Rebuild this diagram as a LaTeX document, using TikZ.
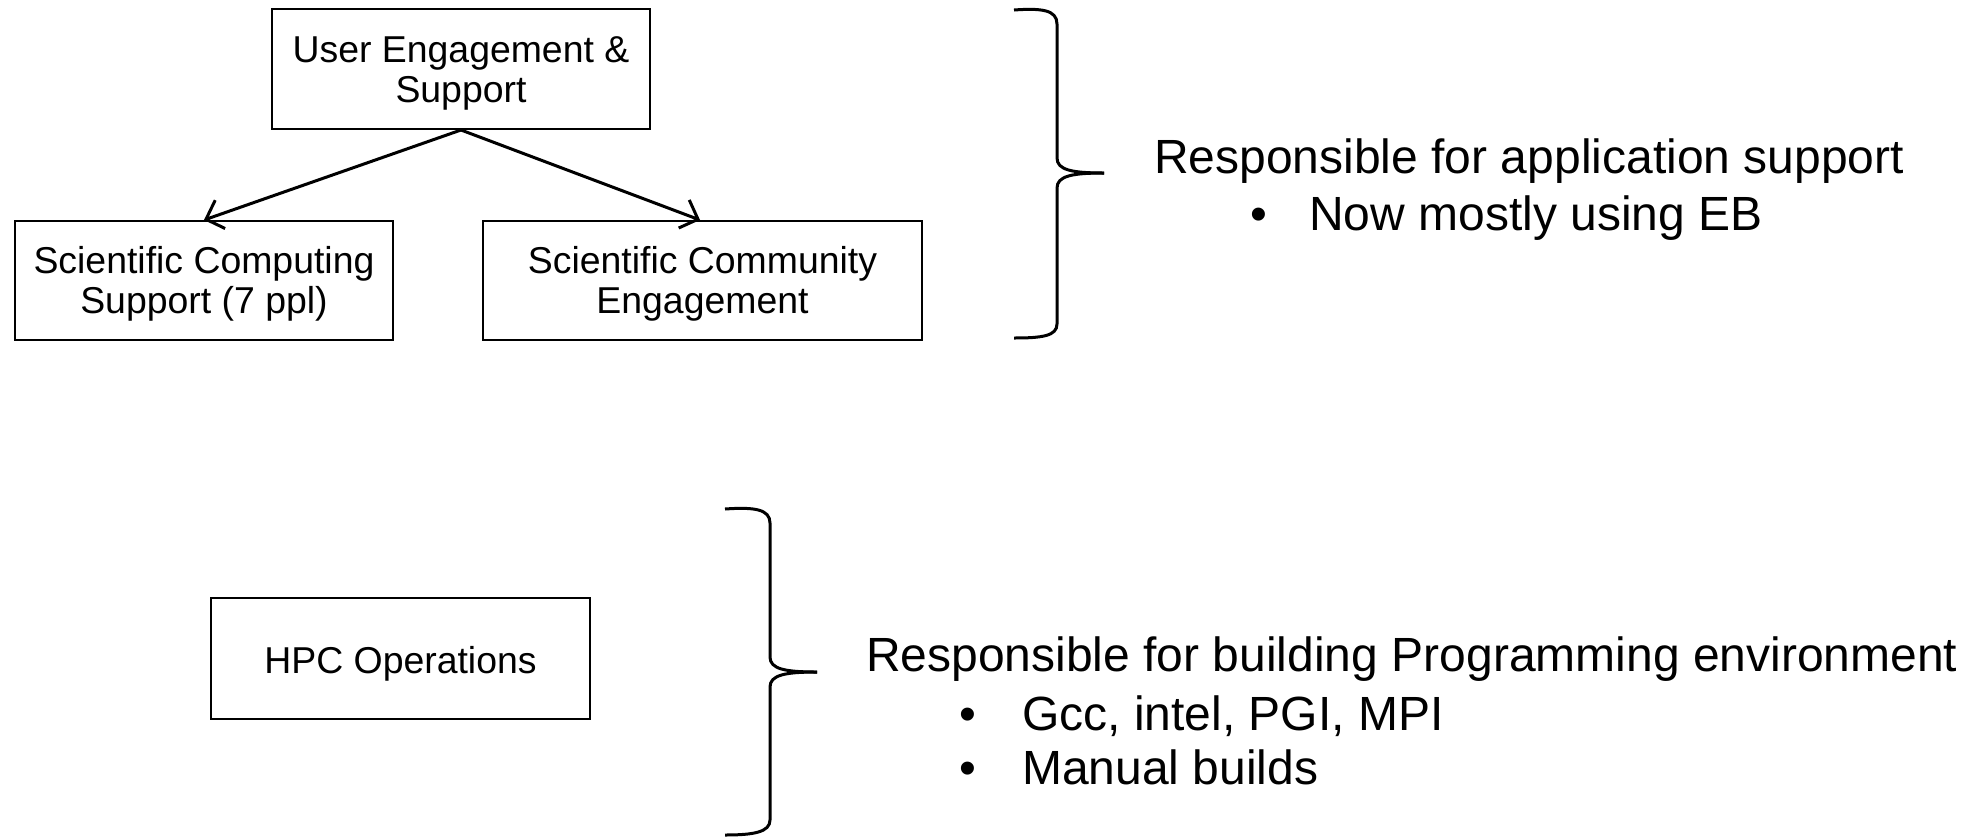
\documentclass[tikz,border=0pt]{standalone}
\usepackage{fontspec}
\setmainfont{Liberation Sans}
\usetikzlibrary{arrows.meta}
\newcommand\bxtext[2][-5pt]{\raisebox{#1}[\height][\depth]{\begin{tabular}{@{}c@{}}#2\end{tabular}}}
\begin{document}
\begin{tikzpicture}[x=1pt,y=-1pt,
  box/.style={draw,line width=2pt,inner sep=0pt,align=center,font=\fontsize{37.4}{40}\selectfont},
  conn/.style={line width=3pt,-{Straight Barb[length=15pt,width=30pt,line width=3pt]}},
  brace/.style={line width=3pt},
  lbl/.style={anchor=base west,inner sep=0pt,font=\fontsize{48}{56}\selectfont}]
\useasboundingbox (0,0) rectangle (1967,839);
\node[box,minimum width=378pt,minimum height=120pt] (top) at (461,69) {\bxtext{User Engagement \&\\Support}};
\node[box,minimum width=378pt,minimum height=119pt] (scs) at (204,280.5) {\bxtext{Scientific Computing\\Support (7 ppl)}};
\node[box,minimum width=439pt,minimum height=119pt] (sce) at (702.5,280.5) {\bxtext{Scientific Community\\Engagement}};
\node[box,minimum width=379pt,minimum height=121pt] (hpc) at (400.5,658.5) {\bxtext[-7pt]{HPC Operations}};
\draw[conn] (top.south) -- (scs.north);
\draw[conn] (top.south) -- (sce.north -| 700,0);
% brace 1
\coordinate (b1) at (1104,173);
\draw[brace] (1014,10) .. controls (1042,8) and (1057,10) .. (1057,24) -- (1057,158) .. controls (1057,170) and (1072,173) .. (b1);
\draw[brace] (b1) .. controls (1072,173) and (1057,176) .. (1057,188) -- (1057,324) .. controls (1057,336) and (1042,338) .. (1014,338);
% brace 2
\coordinate (b2) at (817,672);
\draw[brace] (725,509) .. controls (754,507) and (770,509) .. (770,523) -- (770,657) .. controls (770,669) and (785,672) .. (b2);
\draw[brace] (b2) .. controls (785,672) and (770,675) .. (770,687) -- (770,820) .. controls (770,832) and (754,835) .. (725,835);
\node[lbl] (t1) at (1154,173) {Responsible for application support};
\node[lbl] (t1a) at (1250,230) {•};
\node[lbl] (t1b) at (1309,230) {Now mostly using EB};
\node[lbl] (t2) at (866,671) {Responsible for building Programming environment};
\node[lbl] (t2a) at (959,730) {•};
\node[lbl] (t2b) at (1022,730) {Gcc, intel, PGI, MPI};
\node[lbl] (t2c) at (959,784) {•};
\node[lbl] (t2d) at (1022,784) {Manual builds};
\end{tikzpicture}
\end{document}
